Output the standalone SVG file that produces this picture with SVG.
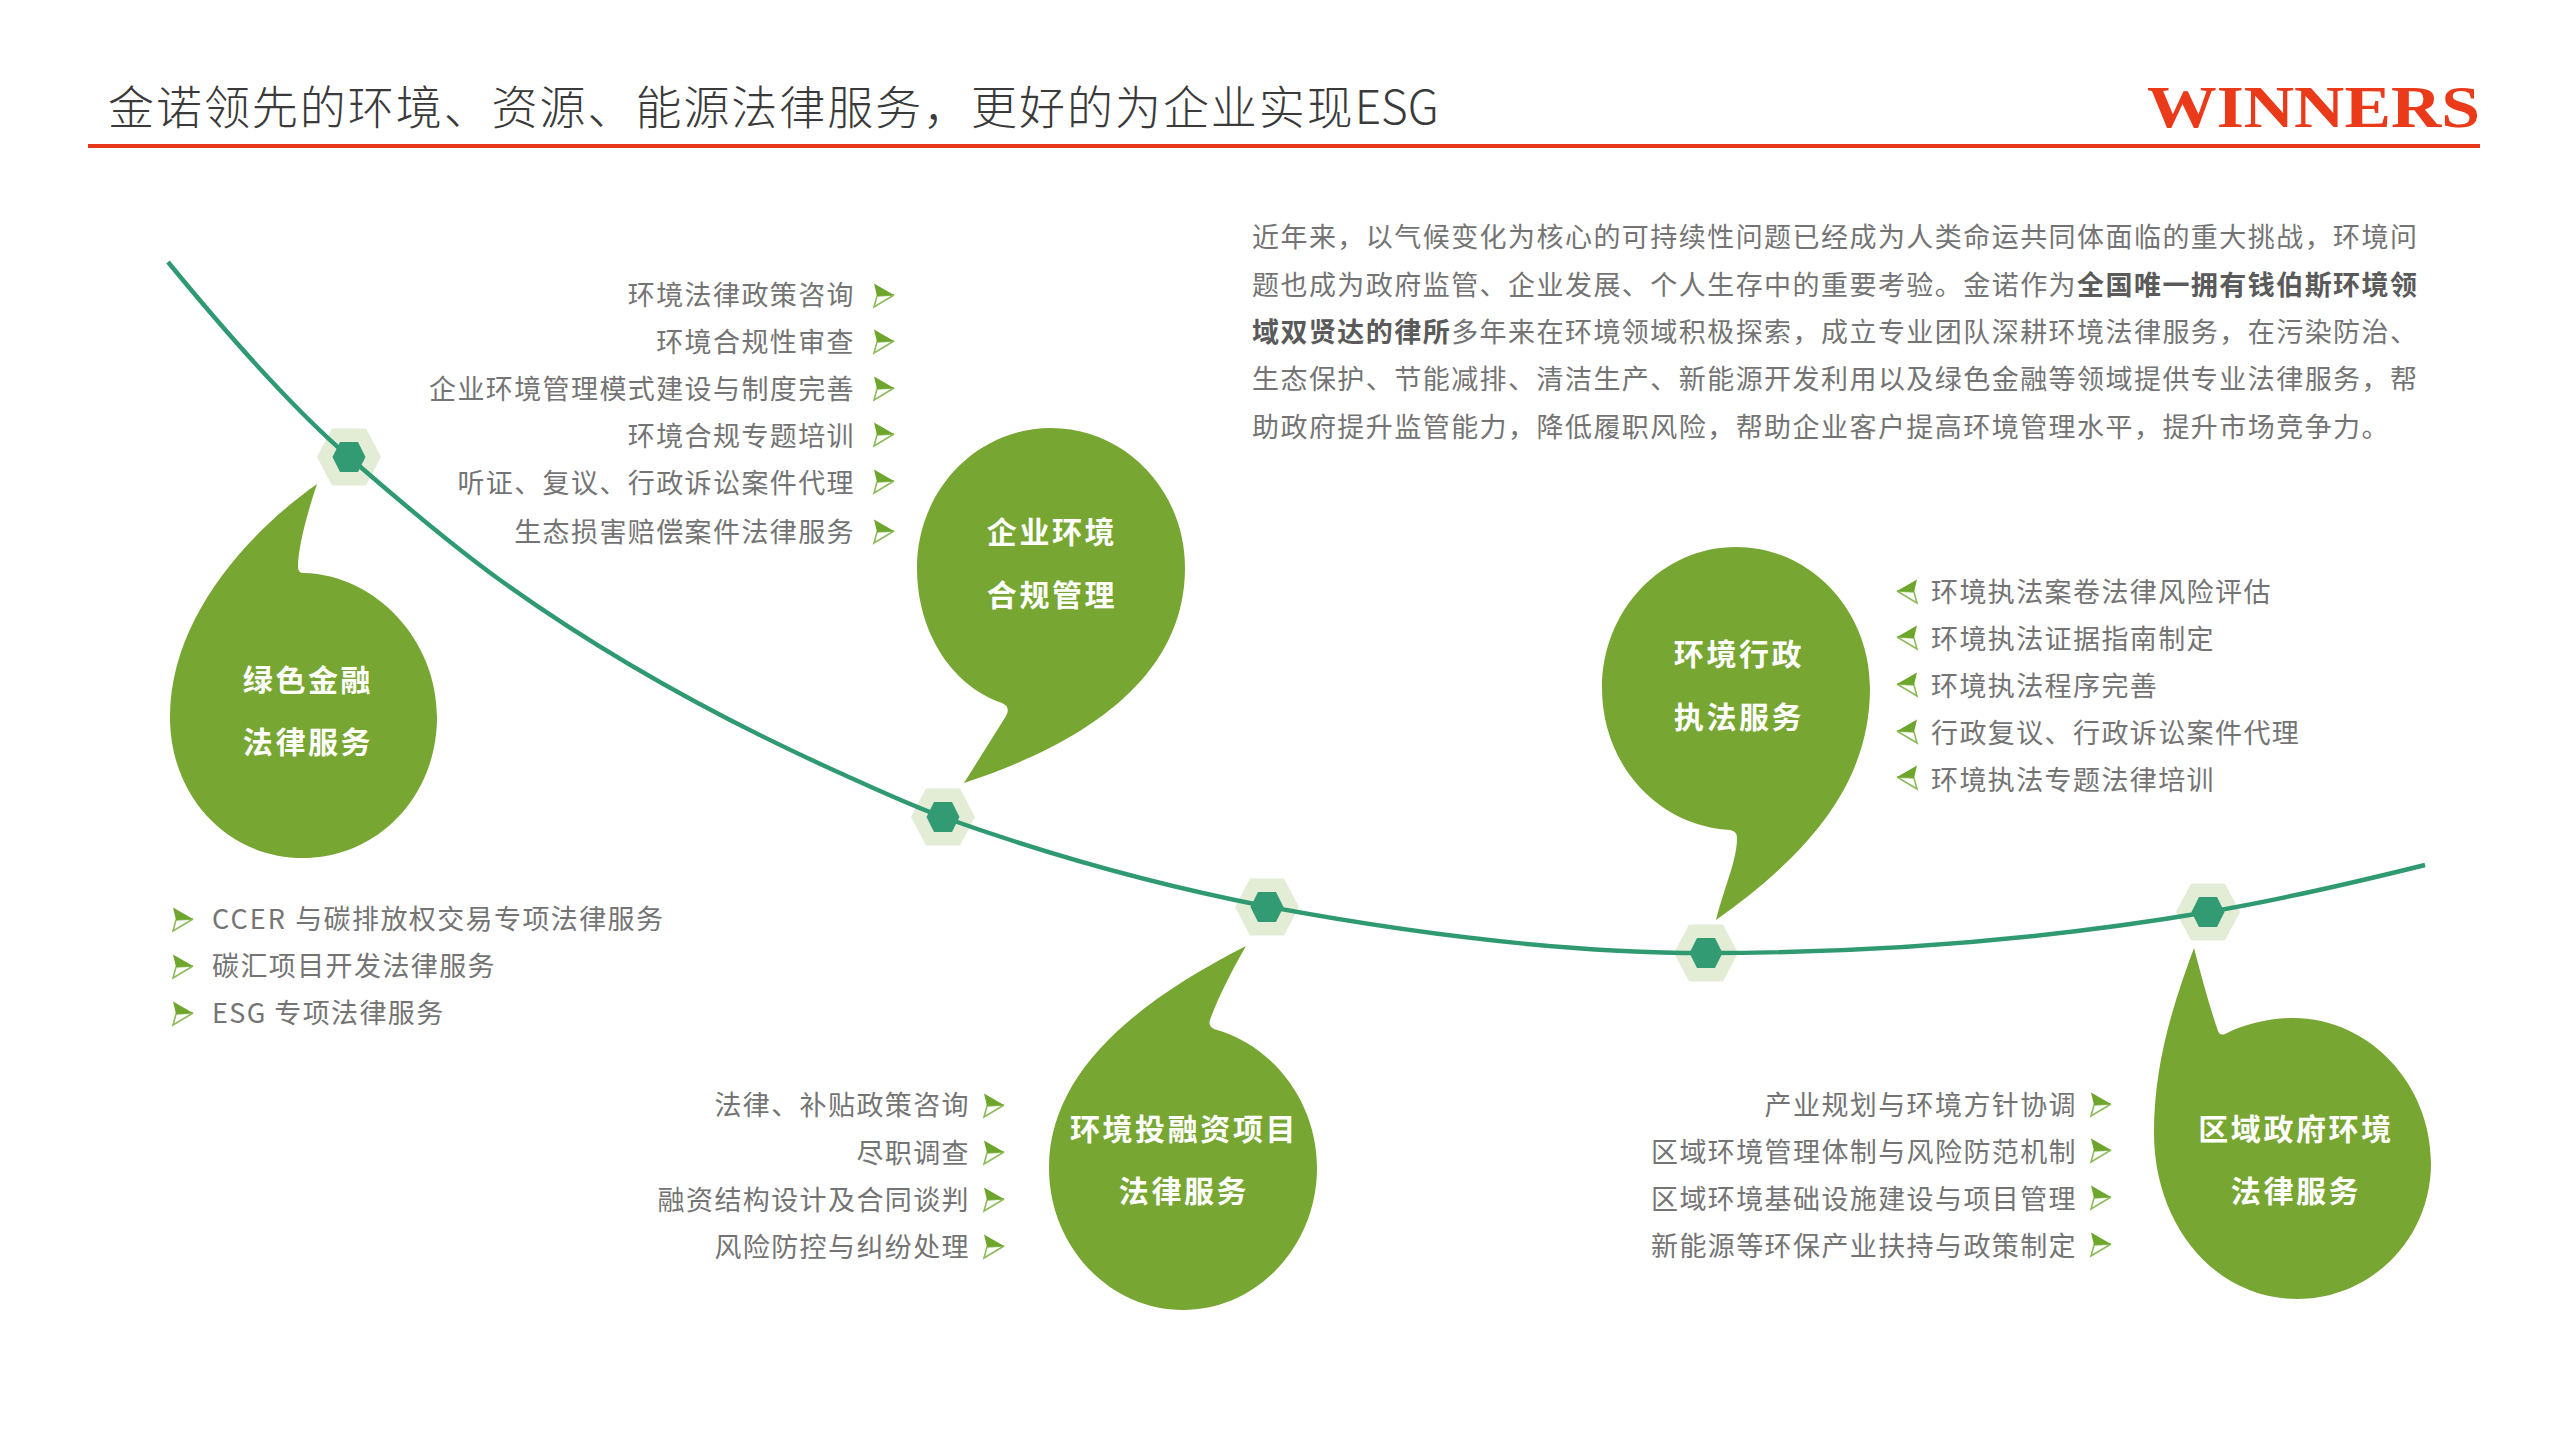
<svg xmlns="http://www.w3.org/2000/svg" width="2560" height="1440" viewBox="0 0 2560 1440">
<style>
text{font-family:"Noto Sans CJK SC","Liberation Sans",sans-serif}
.bg{fill:#ffffff}
.b{fill:#78a633}
.bt{fill:#ffffff;font-size:30px;font-weight:700;letter-spacing:2.6px;text-anchor:middle}
.li{fill:#747474;font-size:27px;letter-spacing:1.4px}
.e{text-anchor:end}
.p{fill:#747474;font-size:27px;letter-spacing:1.45px}
.p tspan{font-weight:700;fill:#5a5a5a}
.curve{fill:none;stroke:#2f9a72;stroke-width:4.4}
.ho{fill:#e3edd6}
.hi{fill:#329b73}
.af{fill:#6ea52c}
.as{fill:#ffffff;stroke:#8dbb5c;stroke-width:1.6}
</style>
<defs>
<polygon id="hexo" points="-32,0 -17,-28.5 17,-28.5 32,0 17,28.5 -17,28.5"/>
<polygon id="hexi" points="-16.5,0 -9,-15 9,-15 16.5,0 9,15 -9,15"/>
<g id="ar"><polygon class="as" points="-17,1 0,0 -20,12"/><polygon class="af" points="-20,-11.5 0,0 -17,1"/></g>
<g id="al"><polygon class="as" points="17,1 0,0 20,12"/><polygon class="af" points="20,-11.5 0,0 17,1"/></g>
</defs>
<rect class="bg" width="2560" height="1440"/>
<g id="header">
<text x="108" y="124" font-size="46" font-weight="300" fill="#3a3a3a" letter-spacing="1.95">金诺领先的环境、资源、能源法律服务，更好的为企业实现<tspan letter-spacing="0">ESG</tspan></text>
<rect x="88" y="144" width="2392" height="4" fill="#e8381b"/>
<text x="2147" y="127" font-weight="700" font-size="60" fill="#ea3a1a" textLength="333" lengthAdjust="spacingAndGlyphs" style="font-family:'Liberation Serif',serif">WINNERS</text>
</g>
<g id="halos">
<use href="#hexo" class="ho" x="349" y="457"/>
<use href="#hexo" class="ho" x="943" y="817"/>
<use href="#hexo" class="ho" x="1267" y="907"/>
<use href="#hexo" class="ho" x="1706" y="953"/>
<use href="#hexo" class="ho" x="2208" y="912"/>
</g>
<g id="connectors">
<path class="curve" d="M168,262 C228.3,335.6 288.7,404.5 349,457 C399.3,500.8 449.7,543.8 500,580 C613.3,661.6 726.7,722 840,773 C874.3,788.4 908.7,804.7 943,817 C1051,855.9 1159,885.5 1267,906.5 C1413.3,933.8 1559.7,953 1706,953 C1873.3,953 2040.7,940.4 2208,912 C2280.3,899.7 2352.7,883 2425,865"/>
</g>
<g id="markers">
<use href="#hexi" class="hi" x="349" y="457"/>
<use href="#hexi" class="hi" x="943" y="817"/>
<use href="#hexi" class="hi" x="1267" y="907"/>
<use href="#hexi" class="hi" x="1706" y="953"/>
<use href="#hexi" class="hi" x="2208" y="912"/>
</g>
<g id="intro">
<text class="p" x="1252" y="247">近年来，以气候变化为核心的可持续性问题已经成为人类命运共同体面临的重大挑战，环境问</text>
<text class="p" x="1252" y="295">题也成为政府监管、企业发展、个人生存中的重要考验。金诺作为<tspan>全国唯一拥有钱伯斯环境领</tspan></text>
<text class="p" x="1252" y="342"><tspan>域双贤达的律所</tspan>多年来在环境领域积极探索，成立专业团队深耕环境法律服务，在污染防治、</text>
<text class="p" x="1252" y="389">生态保护、节能减排、清洁生产、新能源开发利用以及绿色金融等领域提供专业法律服务，帮</text>
<text class="p" x="1252" y="437">助政府提升监管能力，降低履职风险，帮助企业客户提高环境管理水平，提升市场竞争力。</text>
</g>
<g id="node-green-finance">
<path class="b" d="M317,484 C305,520 298,550 298,567 Q298,573 304,573 C376,575 437,640 437,717 C437,797 377,858 303,858 C228,858 170,797 170,717 C170,620 245,535 317,484 Z"/>
<text class="bt" x="308" y="691">绿色金融</text>
<text class="bt" x="308" y="753">法律服务</text>
<use href="#ar" x="193" y="919"/><use href="#ar" x="193" y="966"/><use href="#ar" x="193" y="1013"/>
<text class="li" x="212" y="929"><tspan letter-spacing="2.1">CCER </tspan>与碳排放权交易专项法律服务</text>
<text class="li" x="212" y="976">碳汇项目开发法律服务</text>
<text class="li" x="212" y="1023">ESG 专项法律服务</text>
</g>
<g id="node-compliance">
<path class="b" d="M964,783 L1006,716 Q1011,707 1002,703 C950,685 917,630 917,568 C917,490 977,428 1051,428 C1125,428 1185,490 1185,568 C1185,680 1080,745 964,783 Z"/>
<text class="bt" x="1052" y="543">企业环境</text>
<text class="bt" x="1052" y="606">合规管理</text>
<use href="#ar" x="894" y="295"/><use href="#ar" x="894" y="341"/><use href="#ar" x="894" y="388"/><use href="#ar" x="894" y="434"/><use href="#ar" x="894" y="481"/><use href="#ar" x="894" y="531"/>
<text class="li e" x="855" y="305">环境法律政策咨询</text>
<text class="li e" x="855" y="352">环境合规性审查</text>
<text class="li e" x="855" y="399">企业环境管理模式建设与制度完善</text>
<text class="li e" x="855" y="446">环境合规专题培训</text>
<text class="li e" x="855" y="493">听证、复议、行政诉讼案件代理</text>
<text class="li e" x="855" y="542">生态损害赔偿案件法律服务</text>
</g>
<g id="node-investment">
<path class="b" d="M1246,946 C1232,970 1217,1000 1210,1020 Q1208,1026 1214,1029 C1273,1045 1317,1102 1317,1168 C1317,1246 1257,1310 1183,1310 C1109,1310 1049,1246 1049,1168 C1049,1070 1140,1000 1246,946 Z"/>
<text class="bt" x="1184" y="1140">环境投融资项目</text>
<text class="bt" x="1184" y="1202">法律服务</text>
<use href="#ar" x="1004" y="1105"/><use href="#ar" x="1004" y="1152"/><use href="#ar" x="1004" y="1199"/><use href="#ar" x="1004" y="1246"/>
<text class="li e" x="970" y="1115">法律、补贴政策咨询</text>
<text class="li e" x="970" y="1163">尽职调查</text>
<text class="li e" x="970" y="1210">融资结构设计及合同谈判</text>
<text class="li e" x="970" y="1257">风险防控与纠纷处理</text>
</g>
<g id="node-enforcement">
<path class="b" d="M1716,920 C1725,885 1737,860 1737,838 Q1737,831 1730,830 C1658,826 1602,765 1602,688 C1602,610 1662,547 1736,547 C1810,547 1870,610 1870,688 C1870,790 1800,860 1716,920 Z"/>
<text class="bt" x="1739" y="665">环境行政</text>
<text class="bt" x="1739" y="728">执法服务</text>
<use href="#al" x="1897" y="591"/><use href="#al" x="1897" y="637"/><use href="#al" x="1897" y="684"/><use href="#al" x="1897" y="731"/><use href="#al" x="1897" y="777"/>
<text class="li" x="1931" y="602">环境执法案卷法律风险评估</text>
<text class="li" x="1931" y="649">环境执法证据指南制定</text>
<text class="li" x="1931" y="696">环境执法程序完善</text>
<text class="li" x="1931" y="743">行政复议、行政诉讼案件代理</text>
<text class="li" x="1931" y="790">环境执法专题法律培训</text>
</g>
<g id="node-regional">
<path class="b" d="M2194,948 C2201,975 2210,1008 2218,1031 Q2220,1036 2225,1034 C2245,1024 2270,1018 2293,1018 C2370,1018 2431,1085 2431,1163 C2431,1240 2370,1299 2297,1299 C2215,1299 2154,1225 2154,1133 C2154,1060 2175,1000 2194,948 Z"/>
<text class="bt" x="2296" y="1140">区域政府环境</text>
<text class="bt" x="2296" y="1202">法律服务</text>
<use href="#ar" x="2111" y="1104"/><use href="#ar" x="2111" y="1150"/><use href="#ar" x="2111" y="1197"/><use href="#ar" x="2111" y="1244"/>
<text class="li e" x="2077" y="1115">产业规划与环境方针协调</text>
<text class="li e" x="2077" y="1162">区域环境管理体制与风险防范机制</text>
<text class="li e" x="2077" y="1209">区域环境基础设施建设与项目管理</text>
<text class="li e" x="2077" y="1256">新能源等环保产业扶持与政策制定</text>
</g>
</svg>
